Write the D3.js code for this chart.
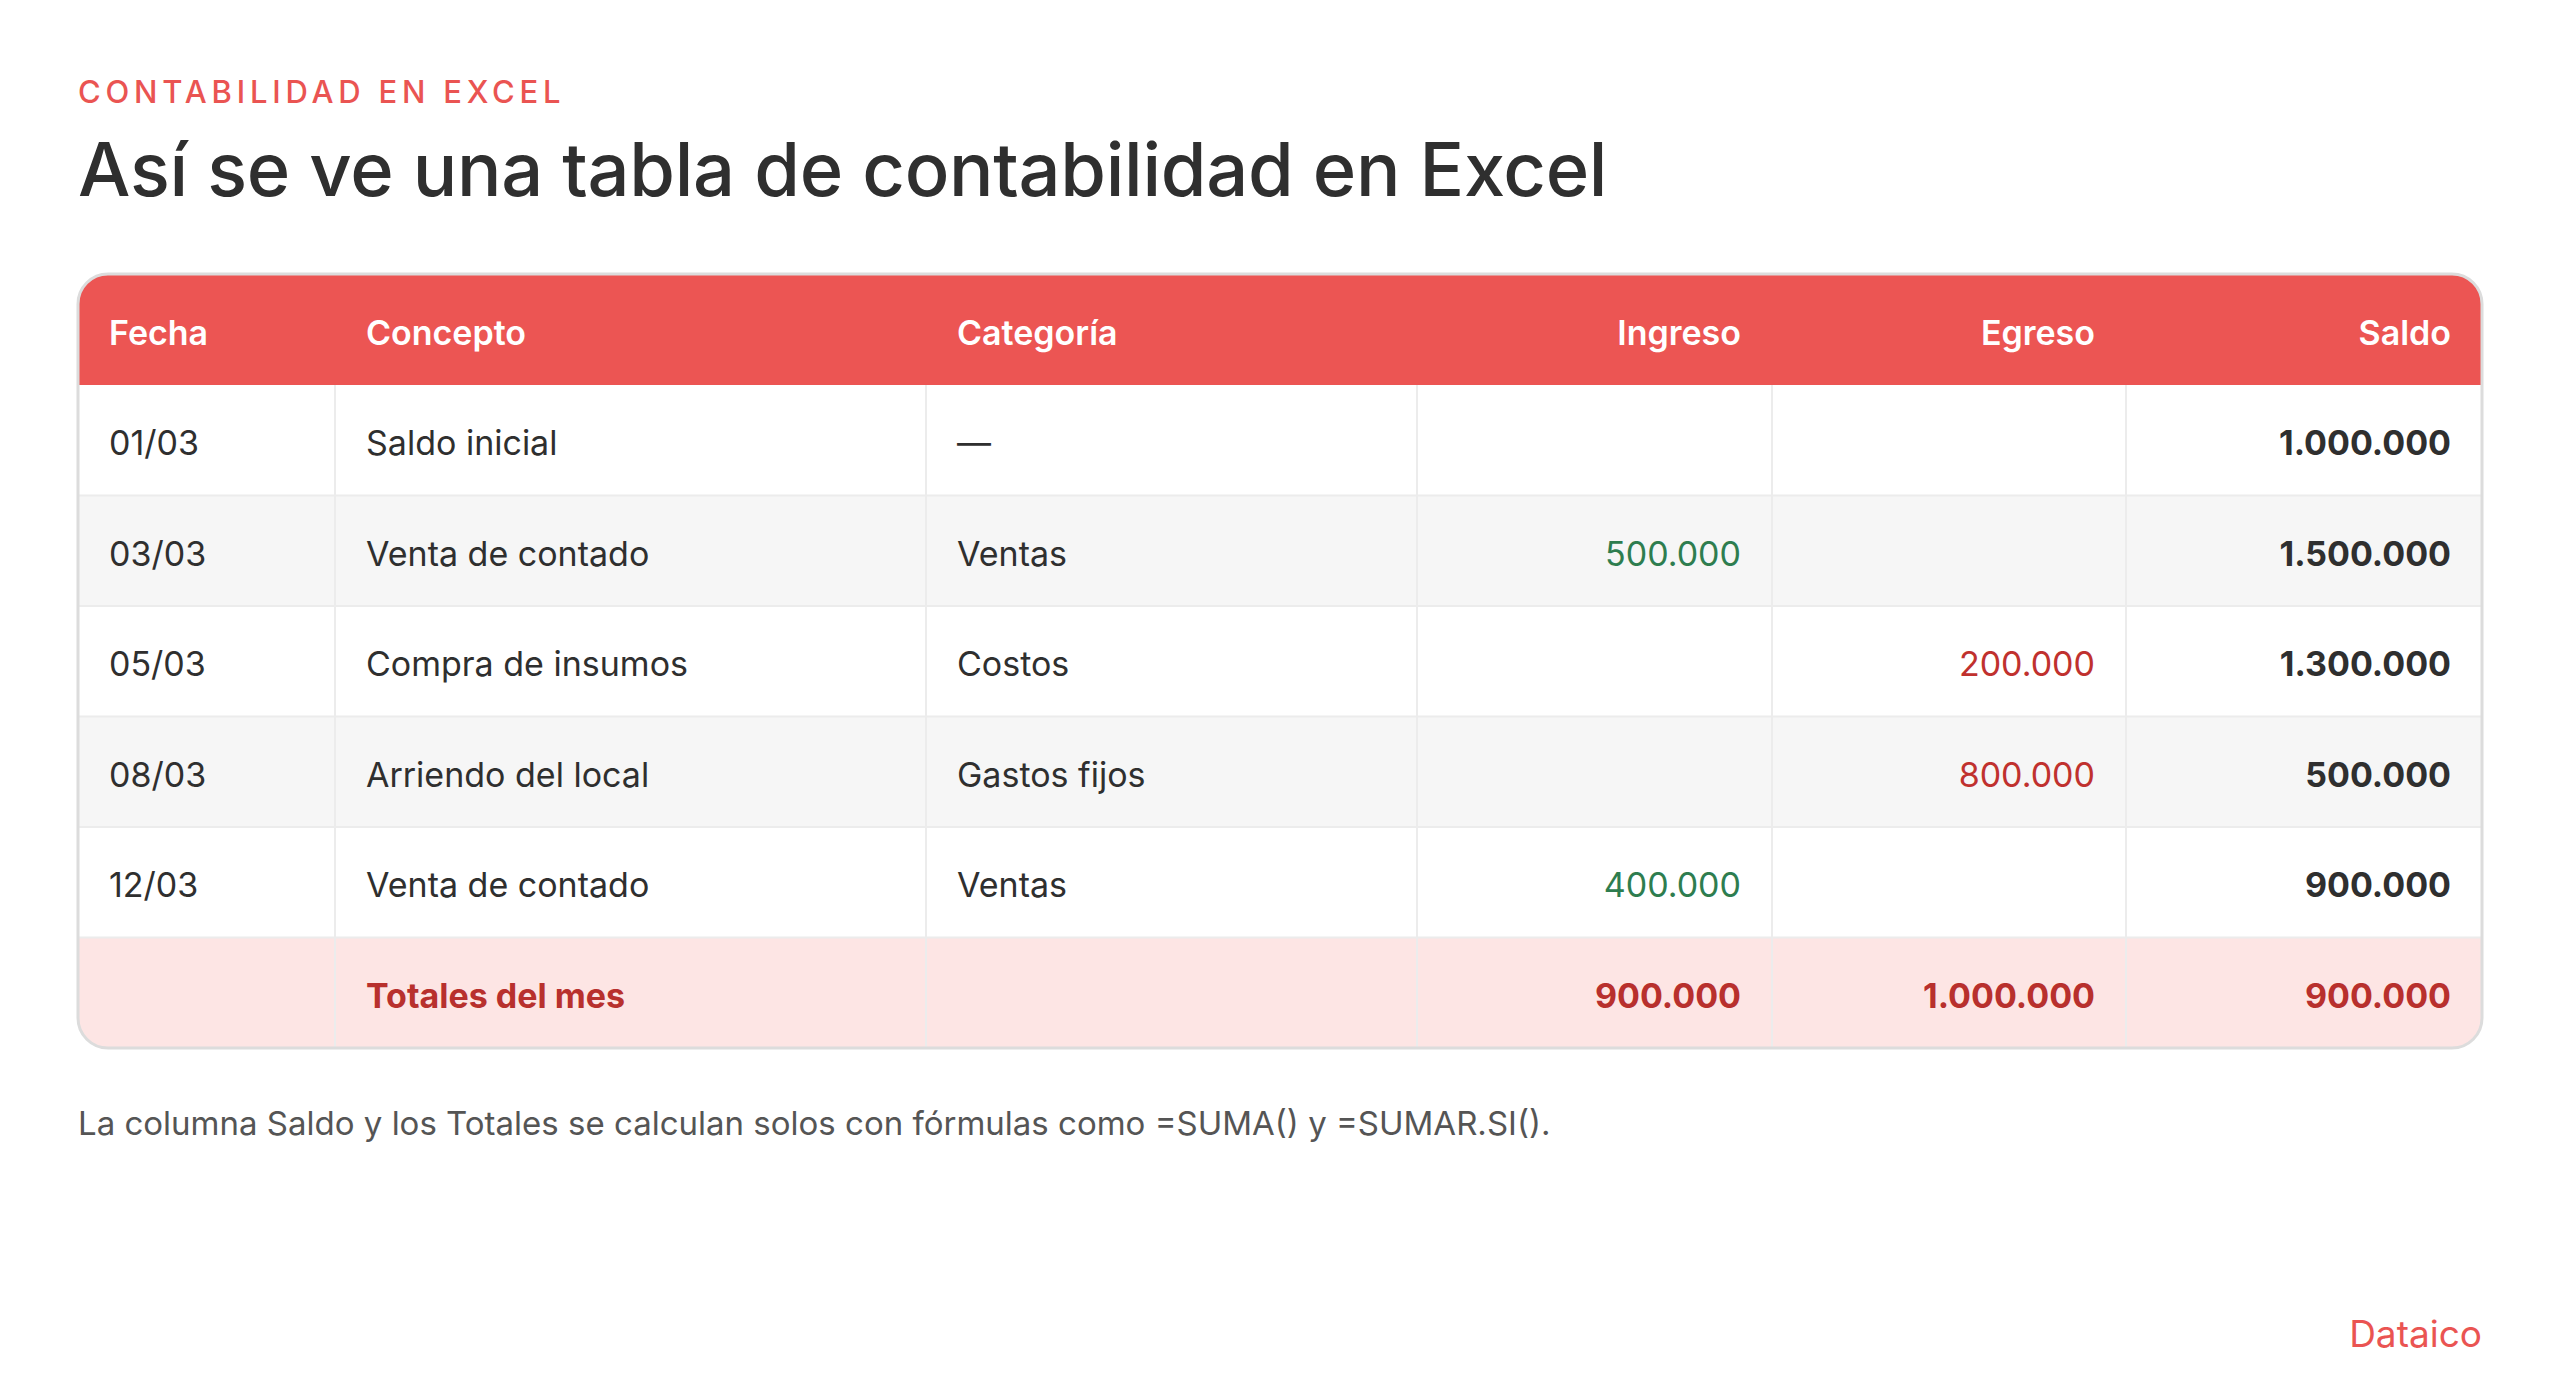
<!DOCTYPE html>
<html><head><meta charset="utf-8">
<script src="https://cdn.jsdelivr.net/npm/d3@7"></script>
<style>body{margin:0;background:#fff}svg{display:block;font-family:Inter,"Noto Sans",sans-serif}</style>
</head><body><div id="chart"></div>
<script>
const columns = ["Fecha", "Concepto", "Categoría", "Ingreso", "Egreso", "Saldo"];
const colAlign = ["start", "start", "start", "end", "end", "end"];
const colEdges = [0, 257, 848, 1339, 1694, 2048, 2404];
const fechas = ["01/03", "03/03", "05/03", "08/03", "12/03"];
const conceptos = ["Saldo inicial", "Venta de contado", "Compra de insumos", "Arriendo del local", "Venta de contado"];
const categorias = ["—", "Ventas", "Costos", "Gastos fijos", "Ventas"];
const ingresos = [null, 500000, null, null, 400000];
const egresos = [null, null, 200000, 800000, null];
const saldos = [1000000, 1500000, 1300000, 500000, 900000];
const totales = ["", "Totales del mes", "", 900000, 1000000, 900000];

const width = 2560, height = 1378;
const margin = { left: 78, right: 78 };
const tableTop = 274, headH = 111, rowH = 110.5;
const fmt = (v) => (v == null ? "" : d3.format(",")(v).replace(/,/g, "."));

const svg = d3.select("#chart").append("svg").attr("width", width).attr("height", height);

svg.append("text").attr("x", margin.left).attr("y", 103).text("CONTABILIDAD EN EXCEL")
  .attr("fill", "#ea5452").attr("font-size", 31).attr("font-weight", 500).attr("letter-spacing", 4.8);
svg.append("text").attr("x", margin.left).attr("y", 196).text("Así se ve una tabla de contabilidad en Excel")
  .attr("fill", "#2f2f2f").attr("font-size", 74).attr("font-weight", 500).attr("letter-spacing", -0.3);

const rows = fechas.map((f, i) => [f, conceptos[i], categorias[i], ingresos[i], egresos[i], saldos[i]]);
const allRows = rows.concat([totales]);

const x = d3.scaleLinear().domain([0, colEdges[colEdges.length - 1]]).range([margin.left, width - margin.right]);
const y = d3.scaleBand().domain(d3.range(allRows.length)).range([tableTop + headH, tableTop + headH + rowH * allRows.length]).paddingInner(0);
const tableBottom = y.range()[1];
const tw = x.range()[1] - x.range()[0];

const g = svg.append("g");
const clipId = "tbl";
svg.append("clipPath").attr("id", clipId).append("rect")
  .attr("x", x.range()[0]).attr("y", tableTop).attr("width", tw).attr("height", tableBottom - tableTop).attr("rx", 30);
const body = g.append("g").attr("clip-path", `url(#${clipId})`);

body.append("rect").attr("x", x.range()[0]).attr("y", tableTop).attr("width", tw).attr("height", headH).attr("fill", "#ec5553");
body.selectAll("rect.row").data(allRows).join("rect").attr("class", "row")
  .attr("x", x.range()[0]).attr("y", (d, i) => y(i)).attr("width", tw).attr("height", y.bandwidth())
  .attr("fill", (d, i) => (i === allRows.length - 1 ? "#fde5e4" : i % 2 ? "#f6f6f6" : "#fff"));
body.selectAll("line.h").data(d3.range(1, allRows.length)).join("line").attr("class", "h")
  .attr("x1", x.range()[0]).attr("x2", x.range()[1]).attr("y1", (i) => y(i)).attr("y2", (i) => y(i))
  .attr("stroke", "#ececec").attr("stroke-width", 2);
body.selectAll("line.v").data(colEdges.slice(1, -1)).join("line").attr("class", "v")
  .attr("x1", (d) => x(d)).attr("x2", (d) => x(d)).attr("y1", tableTop + headH).attr("y2", tableBottom)
  .attr("stroke", "#ececec").attr("stroke-width", 2);
g.append("rect").attr("x", x.range()[0]).attr("y", tableTop).attr("width", tw).attr("height", tableBottom - tableTop)
  .attr("rx", 30).attr("fill", "none").attr("stroke", "#dcdcdc").attr("stroke-width", 3);

const pad = 31;
const tx = (c) => (colAlign[c] === "start" ? x(colEdges[c]) + pad : x(colEdges[c + 1]) - pad);

g.selectAll("text.head").data(columns).join("text").attr("class", "head")
  .attr("x", (d, c) => tx(c)).attr("y", tableTop + headH / 2 + 15).attr("text-anchor", (d, c) => colAlign[c])
  .attr("fill", "#fff").attr("font-size", 34).attr("font-weight", 600).text((d) => d);

allRows.forEach((r, i) => {
  const last = i === allRows.length - 1;
  g.selectAll(null).data(r).join("text")
    .attr("x", (d, c) => tx(c)).attr("y", y(i) + y.bandwidth() / 2 + 15).attr("text-anchor", (d, c) => colAlign[c])
    .attr("font-size", 34)
    .attr("font-weight", (d, c) => (last ? 700 : c === 5 ? 700 : 400))
    .attr("fill", (d, c) => (last ? "#b8302d" : c === 3 ? "#2e7d4f" : c === 4 ? "#c0312e" : "#2f2f2f"))
    .text((d, c) => (c >= 3 ? fmt(d === "" ? null : d) : d));
});

svg.append("text").attr("x", margin.left).attr("y", 1135)
  .text("La columna Saldo y los Totales se calculan solos con fórmulas como =SUMA() y =SUMAR.SI().")
  .attr("fill", "#555").attr("font-size", 33);
svg.append("text").attr("x", width - margin.right).attr("y", 1347).attr("text-anchor", "end")
  .text("Dataico").attr("fill", "#ea5452").attr("font-size", 37);
</script></body></html>
